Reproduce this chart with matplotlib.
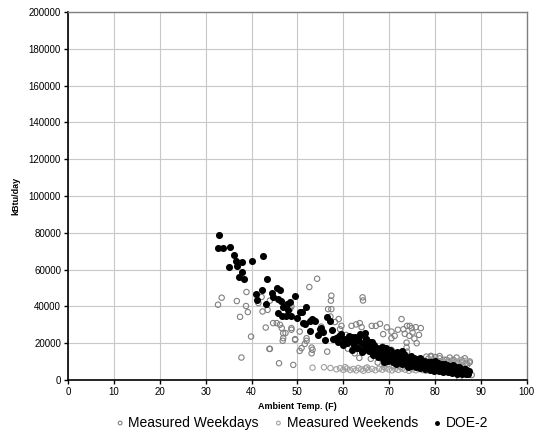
import matplotlib
matplotlib.use('Agg')
import matplotlib.pyplot as plt
from matplotlib.ticker import MultipleLocator

plt.rcParams['font.family'] = ['Liberation Sans', 'DejaVu Sans']

# 实测工作日 (温度 F, kBtu/day 千)
wkday_temp = [32.7, 33.5, 36.8, 38.9, 38.8, 39.2, 37.5, 39.9, 37.8, 41.5, 42.2, 42.4, 43.1, 43.9, 43.5,
              44.0, 44.7, 45.5, 46.2, 46.6, 47.4, 46.9, 46.8, 48.7, 48.4, 48.7, 49.5, 50.5, 50.9, 52.0,
              52.0, 53.1, 53.1, 50.5, 44.0, 54.3, 52.6, 57.4, 57.3, 64.2, 64.3, 57.4, 56.7, 57.2, 59.0,
              59.6, 59.3, 61.8, 63.6, 64.0, 66.2, 67.1, 68.0, 68.7, 70.5, 70.5, 71.9, 72.7, 73.1, 73.9,
              74.5, 74.9, 75.8, 76.9, 76.5, 76.0, 73.8, 73.8, 74.4, 73.4, 75.1, 51.6, 51.6, 53.3, 56.5,
              49.5, 46.9, 48.7, 60.6, 60.0, 65.8, 68.6, 70.5, 73.9, 78.1, 79.2, 79.1, 81.0, 83.2, 84.7,
              85.8, 86.9, 85.8, 83.8, 82.5, 86.5, 87.6, 88.0, 85.3, 46.0, 49.1, 61.0, 62.5, 63.5, 64.5,
              66.0, 67.5, 69.0, 71.0, 72.5, 78.5, 79.5, 80.5, 81.5, 82.0, 83.0, 84.0, 85.0, 86.0, 87.0,
              87.5, 80.0, 81.0, 55.2, 58.2, 62.8, 69.5, 71.2, 75.5]
wkday_kbtu = [40.9, 44.7, 42.9, 47.8, 40.2, 36.9, 34.3, 23.6, 12.2, 41.8, 45.1, 37.2, 28.5, 16.9, 38.1,
              43.1, 30.9, 30.9, 30.0, 28.2, 25.5, 22.7, 21.3, 39.9, 38.5, 27.3, 21.8, 26.3, 17.3, 22.7,
              21.3, 17.6, 14.5, 15.8, 16.9, 55.0, 50.5, 45.8, 43.1, 44.9, 43.2, 38.5, 38.5, 34.5, 33.1,
              29.4, 27.6, 29.4, 30.9, 28.7, 29.4, 29.4, 30.5, 24.9, 26.3, 22.7, 27.3, 33.1, 27.6, 29.4,
              29.4, 28.2, 28.7, 28.2, 24.5, 20.0, 20.3, 17.6, 24.0, 25.1, 25.8, 30.9, 19.6, 16.4, 15.4,
              22.2, 25.4, 28.2, 24.5, 21.8, 20.0, 18.2, 16.4, 15.4, 12.7, 12.7, 13.1, 11.8, 12.2, 12.2,
              10.9, 9.1, 7.3, 9.1, 10.9, 11.8, 10.0, 2.7, 0.4, 9.1, 8.2, 17.0, 14.5, 12.0, 16.0,
              11.5, 9.5, 8.5, 7.5, 7.0, 11.5, 10.5, 10.0, 9.5, 11.0, 10.0, 11.0, 9.5, 10.0, 8.0,
              9.5, 12.5, 13.0, 29.0, 31.5, 30.2, 28.6, 24.0, 22.5]

# 实测周末
wkend_temp = [58.5, 59.3, 60.0, 60.8, 61.5, 62.2, 62.8, 63.3, 63.9, 64.4, 64.9, 65.5, 66.3, 67.0, 67.8,
              68.5, 69.2, 69.9, 70.6, 71.3, 72.0, 72.8, 73.5, 74.3, 75.0, 75.8, 76.5, 77.3, 78.0, 57.2,
              55.8, 53.3, 81.7, 82.4, 83.0, 83.7, 84.3, 85.0, 85.6, 86.2, 86.8, 87.4, 82.0, 84.5, 79.0,
              80.2, 60.4, 65.2, 68.9, 74.8]
wkend_kbtu = [5.8, 6.4, 5.5, 6.2, 5.4, 6.0, 5.2, 6.5, 5.8, 5.0, 6.3, 5.5, 6.0, 5.3, 6.1,
              5.6, 6.4, 5.8, 5.2, 6.0, 5.5, 6.2, 5.6, 5.0, 5.8, 5.3, 5.9, 5.4, 5.0, 6.5,
              6.9, 6.7, 10.2, 9.8, 10.5, 9.6, 10.3, 10.0, 10.6, 9.7, 10.4, 10.0, 8.5, 8.8, 11.0,
              10.8, 7.0, 6.8, 7.2, 6.6]

# DOE-2 模拟
doe_temp = [33.0, 32.7, 33.7, 35.4, 36.1, 36.6, 36.8, 35.2, 37.9, 37.9, 37.3, 38.4, 40.0, 42.6, 43.3,
            41.0, 42.2, 41.3, 43.1, 45.5, 46.2, 44.6, 45.7, 49.5, 48.4, 47.8, 46.9, 45.8, 46.6, 47.6,
            48.7, 51.8, 50.5, 51.3, 52.7, 52.7, 53.8, 54.5, 53.1, 51.6, 50.9, 53.4, 56.4, 57.1, 55.6,
            54.9, 56.0, 57.8, 58.5, 59.6, 60.0, 61.8, 62.5, 63.6, 64.7, 62.2, 61.8, 63.2, 64.0, 65.1,
            66.2, 66.5, 67.6, 68.3, 68.7, 69.8, 70.5, 71.6, 72.3, 73.0, 73.8,
            60.2, 60.8, 61.3, 61.9, 62.4, 62.8, 63.1, 63.5, 63.9, 64.2, 64.6, 65.0, 65.3, 65.7, 65.9,
            66.2, 66.5, 66.8, 67.0, 67.3, 67.6, 67.9, 68.1, 68.4, 68.7, 69.0, 69.2, 69.5, 69.8, 70.0,
            70.3, 70.5, 70.8, 71.0, 71.3, 71.5, 71.8, 72.0, 72.3, 72.5, 72.8, 73.0, 73.3, 73.5, 73.8,
            74.0, 74.3, 74.5, 74.8, 75.0, 75.3, 75.5, 75.8, 76.0, 76.3, 76.5, 76.8, 77.0, 77.3, 77.5,
            77.8, 78.0, 78.3, 78.5, 78.8, 79.0, 79.3, 79.5, 79.8, 80.0, 80.3, 80.5, 80.8, 81.0, 81.3,
            81.5, 81.8, 82.0, 82.3, 82.5, 82.8, 83.0, 83.3, 83.5, 83.8, 84.0, 84.3, 84.5, 84.8, 85.0,
            85.3, 85.5, 85.8, 86.0, 86.3, 86.5, 86.8, 87.0, 87.2, 87.4,
            70.2, 71.7, 73.2, 74.7, 76.2, 77.7, 79.2, 80.7, 82.2, 83.7, 85.2, 86.6, 69.3, 72.9, 76.7,
            80.1, 83.9, 68.9, 71.4, 74.1, 44.5, 46.5, 48.0, 50.0, 55.2, 57.5, 59.0, 58.8, 61.0, 64.9]
doe_kbtu = [78.6, 71.8, 71.8, 72.3, 67.7, 64.7, 62.1, 61.6, 63.9, 58.5, 55.8, 54.7, 64.5, 67.2, 54.7,
            46.9, 49.0, 43.2, 41.4, 50.0, 48.9, 45.1, 44.1, 45.8, 42.3, 41.2, 39.9, 36.3, 35.0, 34.9,
            34.5, 39.4, 36.7, 30.9, 31.8, 26.7, 31.8, 24.5, 33.2, 30.3, 37.2, 32.7, 34.2, 32.3, 26.3,
            27.6, 21.8, 22.2, 22.7, 25.1, 19.1, 23.2, 23.6, 24.9, 25.4, 20.0, 16.4, 17.3, 15.4, 18.5,
            20.9, 16.4, 14.5, 17.3, 12.7, 14.9, 13.6, 11.8, 12.7, 10.0, 10.9,
            22.5, 20.0, 24.0, 21.5, 19.0, 23.0, 17.5, 21.0, 24.5, 19.5, 16.5, 22.0, 18.0, 15.5, 20.5,
            17.0, 13.5, 19.0, 15.0, 17.5, 12.5, 16.0, 14.0, 18.0, 11.5, 15.0, 13.0, 16.5, 10.5, 14.0,
            12.0, 15.5, 9.5, 13.0, 11.0, 14.5, 9.0, 12.5, 10.5, 13.5, 8.5, 11.5, 9.5, 13.0, 8.0,
            11.0, 9.0, 12.5, 7.5, 10.5, 8.5, 12.0, 7.0, 10.0, 8.0, 11.0, 6.5, 9.5, 7.5, 10.5,
            6.0, 9.0, 7.0, 10.0, 5.5, 8.5, 6.5, 9.5, 5.0, 8.0, 6.0, 9.0, 4.8, 7.5, 5.5,
            8.5, 4.5, 7.0, 5.2, 8.0, 4.2, 6.5, 4.8, 7.5, 3.8, 6.0, 4.5, 7.0, 3.5, 5.5,
            4.0, 6.5, 3.2, 5.0, 3.8, 5.8, 3.0, 4.5, 3.5, 5.0,
            16.5, 15.2, 14.0, 12.8, 11.5, 10.5, 9.8, 9.2, 8.6, 7.8, 6.8, 6.0, 17.5, 15.8, 12.0,
            10.2, 8.2, 9.8, 8.8, 7.2, 47.5, 43.0, 38.0, 33.5, 28.5, 27.0, 24.0, 20.5, 21.0, 22.5]

fig = plt.figure(figsize=(5.37, 4.40), dpi=100)
ax = fig.add_axes([0.1266, 0.1364, 0.8544, 0.8366])

ax.scatter(wkday_temp, [v * 1000 for v in wkday_kbtu], s=15, facecolors='none',
           edgecolors='#808080', linewidths=0.8, label='Measured Weekdays')
ax.scatter(wkend_temp, [v * 1000 for v in wkend_kbtu], s=15, facecolors='none',
           edgecolors='#a0a0a0', linewidths=0.8, label='Measured Weekends')
ax.scatter(doe_temp, [v * 1000 for v in doe_kbtu], s=26, c='black', linewidths=0,
           label='DOE-2')

ax.set_xlim(0, 100)
ax.set_ylim(0, 200000)
ax.xaxis.set_major_locator(MultipleLocator(10))
ax.yaxis.set_major_locator(MultipleLocator(20000))
ax.grid(True, color='#c8c8c8', linewidth=0.8)
ax.set_axisbelow(True)

for s in ['top', 'right']:
    ax.spines[s].set_color('#808080')
    ax.spines[s].set_linewidth(1.0)
for s in ['left', 'bottom']:
    ax.spines[s].set_color('black')
    ax.spines[s].set_linewidth(1.2)

ax.tick_params(direction='out', length=3, width=1, labelsize=7, colors='black', pad=2)
ax.set_xlabel('Ambient Temp. (F)', fontsize=6.5, fontweight='bold', labelpad=4)
ax.set_ylabel('kBtu/day', fontsize=6.5, fontweight='bold', labelpad=6)

fig.legend(loc='lower center', bbox_to_anchor=(0.56, -0.005), ncol=3, frameon=False,
           fontsize=10, markerscale=0.7, handletextpad=0.1, columnspacing=0.9, handlelength=1.0)

fig.savefig('out.png', dpi=100)
